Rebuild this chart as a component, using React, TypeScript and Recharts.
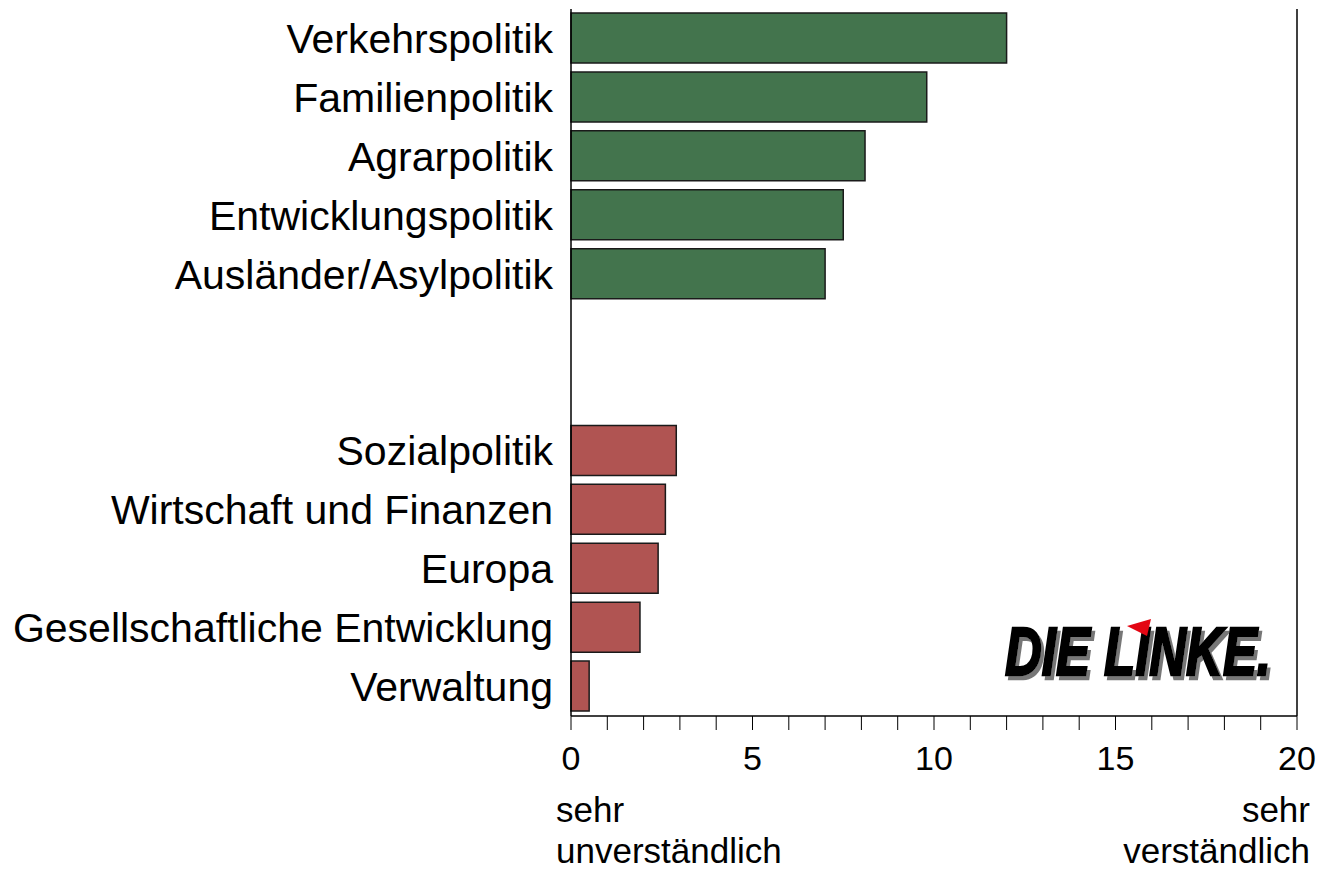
import React from 'react';
import { BarChart, Bar, XAxis, YAxis, Cell, ReferenceLine } from 'recharts';

// Themen, von oben nach unten; die zwei leeren Einträge bilden die Lücke
const categories = [
  'Verkehrspolitik',
  'Familienpolitik',
  'Agrarpolitik',
  'Entwicklungspolitik',
  'Ausländer/Asylpolitik',
  '',
  ' ',
  'Sozialpolitik',
  'Wirtschaft und Finanzen',
  'Europa',
  'Gesellschaftliche Entwicklung',
  'Verwaltung',
];
const values = [12.0, 9.8, 8.1, 7.5, 7.0, null, null, 2.9, 2.6, 2.4, 1.9, 0.5];
const groups = ['top', 'top', 'top', 'top', 'top', 'gap', 'gap', 'low', 'low', 'low', 'low', 'low'];

const xTicks = [0, 1, 2, 3, 4, 5, 6, 7, 8, 9, 10, 11, 12, 13, 14, 15, 16, 17, 18, 19, 20];
const xLabels = [0, 5, 10, 15, 20];

const GREEN = '#43744d';
const RED = '#b05452';

const data = categories.map((name, i) => ({ name, value: values[i], group: groups[i] }));

function Overlay() {
  return (
    <svg
      width={1318}
      height={870}
      style={{ position: 'absolute', left: 0, top: 0, pointerEvents: 'none' }}
    >
      <defs>
        <filter id="logoShadow" x="-5%" y="-20%" width="115%" height="150%">
          <feDropShadow dx={3} dy={4} stdDeviation={0.6} floodColor="#777" floodOpacity={1} />
        </filter>
      </defs>
      {/* "sehr unverständlich" / "sehr verständlich" */}
      <g fontSize={35} fill="#000">
        <text x={556} y={822}>sehr</text>
        <text x={556} y={863}>unverständlich</text>
        <text x={1310} y={822} textAnchor="end">sehr</text>
        <text x={1310} y={863} textAnchor="end">verständlich</text>
      </g>
      {/* DIE LINKE. */}
      <text
        x={1005}
        y={675}
        fontFamily="'Liberation Sans', Arial, sans-serif"
        fontWeight={900}
        fontStyle="italic"
        fontSize={68}
        textLength={266}
        lengthAdjust="spacingAndGlyphs"
        fill="#000"
        stroke="#000"
        strokeWidth={2.5}
        filter="url(#logoShadow)"
      >
        DIE LINKE.
      </text>
      <polygon points="1127,626 1151,619 1147,636" fill="#e30613" />
    </svg>
  );
}

export default function App() {
  return (
    <div
      style={{
        position: 'absolute',
        left: 0,
        top: 0,
        width: 1318,
        height: 870,
        background: '#fff',
        fontFamily: "'Liberation Sans', Arial, sans-serif",
      }}
    >
      <BarChart
        width={1318}
        height={870}
        data={data}
        layout="vertical"
        margin={{ top: 9, right: 21, left: 0, bottom: 94 }}
      >
        <XAxis
          type="number"
          domain={[0, 20]}
          ticks={xTicks}
          interval={0}
          height={60}
          axisLine={{ stroke: '#000', strokeWidth: 1.5 }}
          tickLine={{ stroke: '#000', strokeWidth: 1 }}
          tickSize={14}
          tickMargin={16}
          tick={{ fill: '#000', fontSize: 34 }}
          tickFormatter={(v: number) => (xLabels.includes(v) ? String(v) : '')}
        />
        <XAxis
          xAxisId="top"
          orientation="top"
          type="number"
          domain={[0, 20]}
          height={0}
          tick={false}
          tickLine={false}
          axisLine={{ stroke: '#000', strokeWidth: 1.5 }}
        />
        <YAxis
          type="category"
          dataKey="name"
          width={571}
          interval={0}
          tickLine={false}
          tickSize={0}
          tickMargin={18}
          axisLine={{ stroke: '#000', strokeWidth: 1.5 }}
          tick={{ fill: '#000', fontSize: 41 }}
        />
        <ReferenceLine x={20} stroke="#000" strokeWidth={1.5} />
        <Bar dataKey="value" barSize={50} stroke="#1a1a1a" strokeWidth={1.5} isAnimationActive={false}>
          {data.map((d, i) => (
            <Cell key={i} fill={d.group === 'top' ? GREEN : RED} />
          ))}
        </Bar>
      </BarChart>
      <Overlay />
    </div>
  );
}
